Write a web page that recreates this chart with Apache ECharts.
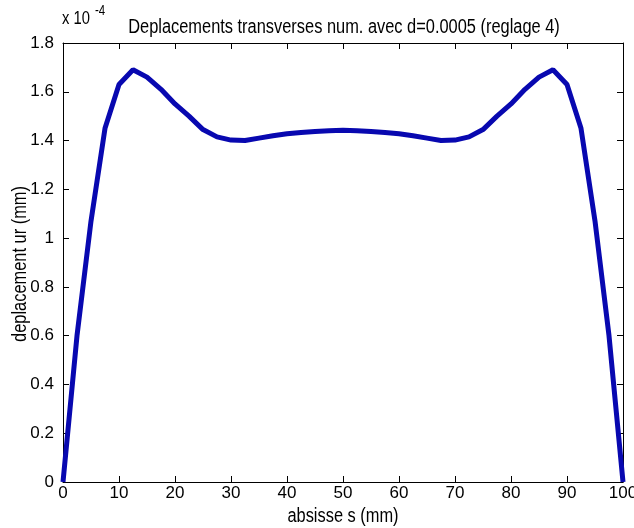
<!DOCTYPE html>
<html>
<head>
<meta charset="utf-8">
<script src="https://cdn.jsdelivr.net/npm/echarts@6/dist/echarts.min.js"></script>
<style>html,body{margin:0;padding:0;background:#fff;}#c{width:634px;height:528px;}</style>
</head>
<body>
<div id="c"></div>
<script>
const titleText = "Deplacements transverses num. avec d=0.0005 (reglage 4)";
const xName = "absisse s (mm)";
const yName = "deplacement ur (mm)";
const xs = [0,2.5,5,7.5,10,12.5,15,17.5,20,22.5,25,27.5,30,32.5,35,37.5,40,42.5,45,47.5,50,52.5,55,57.5,60,62.5,65,67.5,70,72.5,75,77.5,80,82.5,85,87.5,90,92.5,95,97.5,100];
const ur = [0,0.60,1.07,1.45,1.63,1.69,1.66,1.61,1.55,1.50,1.445,1.415,1.402,1.40,1.41,1.42,1.428,1.433,1.437,1.44,1.442,1.44,1.437,1.433,1.428,1.42,1.41,1.40,1.402,1.415,1.445,1.50,1.55,1.61,1.66,1.69,1.63,1.45,1.07,0.60,0];
const F = '"Liberation Sans", Arial, sans-serif';
const NARROW = 0.82;
const chart = echarts.init(document.getElementById('c'));
const axTick = {show:true, inside:true, length:6, lineStyle:{color:'#000', width:1}};
const axLine = {show:true, onZero:false, lineStyle:{color:'#000', width:1}};
chart.setOption({
  backgroundColor:'#fff',
  animation:false,
  textStyle:{fontFamily:F},
  grid:{left:63, right:11, top:43, bottom:46, containLabel:false, outerBoundsMode:'none'},
  graphic:[
    {type:'text', x:344, y:27, scaleX:NARROW, style:{text:titleText, fontFamily:F, fontSize:20, fill:'#000', align:'center', verticalAlign:'middle'}},
    {type:'text', x:62, y:19, scaleX:NARROW, style:{text:'x 10', fontFamily:F, fontSize:18, fill:'#000', align:'left', verticalAlign:'middle'}},
    {type:'text', x:95, y:11, scaleX:NARROW, style:{text:'-4', fontFamily:F, fontSize:14, fill:'#000', align:'left', verticalAlign:'middle'}},
    {type:'text', x:343, y:516, scaleX:NARROW, style:{text:xName, fontFamily:F, fontSize:20, fill:'#000', align:'center', verticalAlign:'middle'}},
    {type:'text', x:20, y:264, rotation:Math.PI/2, scaleX:NARROW, style:{text:yName, fontFamily:F, fontSize:20, fill:'#000', align:'center', verticalAlign:'middle'}}
  ],
  xAxis:[
    {type:'value', min:0, max:100, interval:10, position:'bottom', axisLine:axLine, axisTick:axTick, splitLine:{show:false},
     axisLabel:{color:'#000', fontSize:17, fontFamily:F, margin:3}},
    {type:'value', min:0, max:100, interval:10, position:'top', axisLine:axLine, axisTick:axTick, splitLine:{show:false}, axisLabel:{show:false}}
  ],
  yAxis:[
    {type:'value', min:0, max:1.8, interval:0.2, position:'left', axisLine:axLine, axisTick:axTick, splitLine:{show:false},
     axisLabel:{color:'#000', fontSize:17, fontFamily:F, margin:9}},
    {type:'value', min:0, max:1.8, interval:0.2, position:'right', axisLine:axLine, axisTick:axTick, splitLine:{show:false}, axisLabel:{show:false}}
  ],
  series:[{type:'line', data:xs.map((x,i)=>[x, ur[i]]), showSymbol:false, symbol:'none',
    lineStyle:{color:'#0808b0', width:5}, clip:false}]
});
</script>
</body>
</html>
